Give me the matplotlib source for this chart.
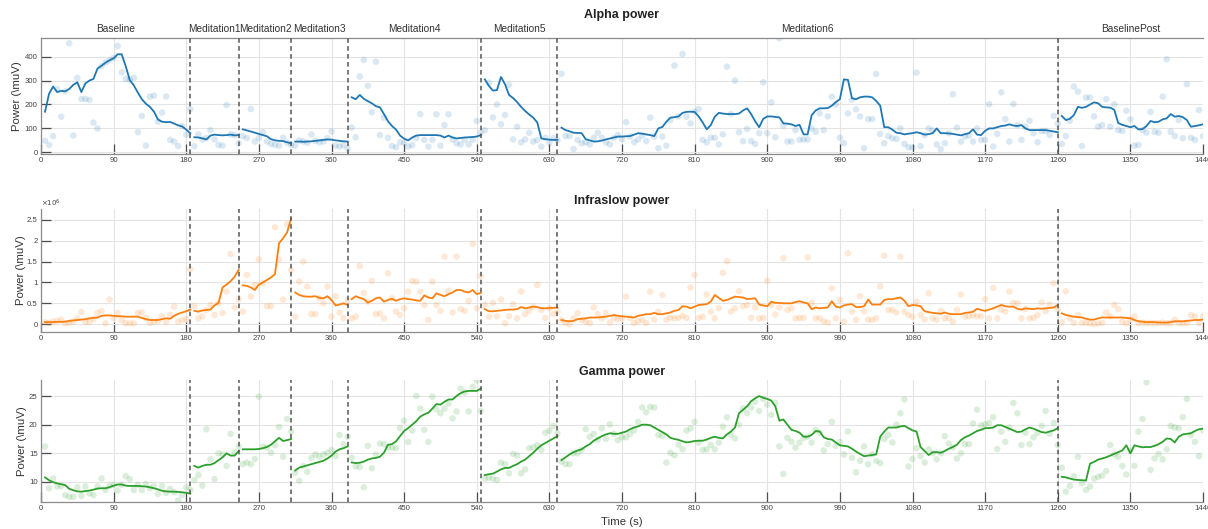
import numpy as np
import matplotlib
matplotlib.use("Agg")
import matplotlib.pyplot as plt
from matplotlib.transforms import blended_transform_factory

plt.rcParams['font.family'] = ['Liberation Sans', 'DejaVu Sans']

# Session layout (seconds); one sample every 5 s inside each segment
segment_names = ['Baseline', 'Meditation1', 'Meditation2', 'Meditation3',
                 'Meditation4', 'Meditation5', 'Meditation6', 'BaselinePost']
segment_bounds = [0, 185, 245, 310, 380, 545, 640, 1260, 1440]
sample_step = 5
x_ticks = list(range(0, 1441, 90))

# ---------------- Alpha power (muV) ----------------
alpha_trend = [
    [170, 245, 275, 252, 257, 255, 265, 282, 293, 252,
     288, 300, 307, 350, 362, 375, 385, 393, 410, 410,
     360, 302, 280, 250, 222, 203, 190, 170, 137, 128,
     126, 127, 120, 113, 108, 95, 80],
    [63, 62, 58, 54, 70, 74, 72, 71, 72, 74, 71, 72],
    [96, 92, 87, 82, 77, 72, 67, 55, 50, 48, 47, 42, 38],
    [45, 45, 44, 45, 46, 48, 50, 52, 54, 53, 50, 48, 46, 45],
    [230, 222, 240, 224, 214, 205, 193, 188, 160, 130,
     110, 95, 70, 57, 50, 62, 70, 72, 72, 72,
     72, 72, 70, 62, 70, 62, 58, 60, 62, 63,
     64, 66, 72],
    [305, 278, 258, 260, 315, 285, 240, 227, 210, 190,
     173, 158, 145, 125, 58, 55, 53, 52, 52],
    [103, 93, 88, 82, 81, 80, 55, 50, 45, 46,
     49, 54, 58, 62, 66, 66, 67, 68, 74, 80,
     78, 75, 72, 68, 100, 106, 128, 145, 147, 150,
     165, 169, 170, 169, 150, 125, 96, 114, 149, 165,
     162, 160, 160, 160, 162, 175, 184, 160, 130, 105,
     140, 150, 150, 148, 146, 121, 120, 117, 110, 115,
     75, 75, 155, 175, 184, 184, 185, 195, 210, 222,
     305, 303, 226, 222, 230, 233, 233, 230, 215, 195,
     105, 105, 95, 82, 80, 75, 78, 80, 84, 80,
     74, 76, 80, 100, 80, 80, 79, 77, 74, 71,
     76, 80, 96, 74, 72, 90, 100, 100, 105, 110,
     112, 117, 112, 110, 114, 100, 93, 93, 93, 93,
     93, 90, 87, 84],
    [152, 135, 140, 156, 190, 186, 190, 200, 209, 205,
     190, 188, 187, 178, 122, 115, 110, 105, 110, 96,
     97, 110, 131, 126, 128, 138, 142, 160, 149, 152,
     147, 135, 107, 110, 113, 117],
]
alpha_samples = [
    [49, 31, 68, 265, 149, 255, 456, 70, 311, 223,
     223, 219, 124, 100, 360, 375, 385, 395, 445, 335,
     307, 305, 311, 84, 152, 28, 233, 237, 128, 166,
     233, 52, 45, 26, 110, 74, 181],
    [26, 75, 54, 60, 93, 54, 31, 28, 198, 75, 72, 38],
    [68, 60, 181, 45, 60, 84, 45, 35, 31, 28, 61, 40, 30],
    [28, 50, 45, 40, 75, 48, 42, 45, 60, 87, 28, 24, 30, 15],
    [103, 63, 317, 386, 278, 167, 379, 72, 145, 61,
     26, 21, 42, 40, 24, 30, 60, 160, 52, 24,
     52, 159, 28, 114, 159, 54, 38, 33, 52, 33,
     52, 131, 82],
    [93, 291, 146, 200, 117, 156, 282, 54, 107, 42,
     54, 82, 45, 52, 24, 61, 40, 60, 50],
    [328, 68, 68, 14, 52, 38, 42, 33, 61, 82,
     61, 42, 33, 60, 72, 55, 126, 66, 42, 54,
     70, 47, 145, 66, 17, 66, 28, 135, 363, 150,
     411, 149, 121, 170, 181, 52, 42, 61, 61, 33,
     75, 358, 160, 300, 84, 47, 98, 47, 35, 80,
     293, 80, 209, 63, 477, 112, 45, 45, 93, 52,
     54, 54, 100, 86, 163, 93, 150, 233, 200, 61,
     38, 163, 220, 180, 150, 17, 139, 139, 328, 77,
     38, 68, 59, 56, 100, 35, 21, 20, 333, 26,
     72, 100, 91, 33, 13, 38, 80, 243, 103, 45,
     66, 70, 45, 100, 52, 52, 201, 24, 77, 251,
     139, 45, 202, 114, 52, 107, 132, 80, 42, 89,
     89, 72, 152, 120],
    [35, 68, 132, 275, 254, 26, 229, 229, 150, 107,
     114, 222, 107, 201, 93, 89, 174, 138, 28, 31,
     93, 82, 169, 86, 82, 233, 389, 86, 68, 135,
     59, 285, 61, 52, 177, 68],
]

# ---------------- Infraslow power (x 1e6 muV) ----------------
infraslow_trend_e6 = [
    [0.05, 0.05, 0.05, 0.055, 0.056, 0.06, 0.08, 0.09, 0.10, 0.11,
     0.12, 0.14, 0.15, 0.16, 0.20, 0.21, 0.21, 0.20, 0.19, 0.19,
     0.18, 0.18, 0.18, 0.18, 0.15, 0.12, 0.10, 0.10, 0.10, 0.12,
     0.14, 0.13, 0.20, 0.25, 0.28, 0.31, 0.35],
    [0.32, 0.30, 0.33, 0.34, 0.35, 0.45, 0.51, 0.88, 0.95, 1.03, 1.14, 1.30],
    [0.93, 0.92, 0.88, 0.82, 0.95, 1.00, 1.06, 1.12, 1.20, 1.94, 2.06, 2.20, 2.54],
    [0.76, 0.70, 0.67, 0.66, 0.66, 0.67, 0.63, 0.62, 0.67, 0.58, 0.45, 0.47, 0.50, 0.46],
    [0.60, 0.67, 0.63, 0.60, 0.52, 0.56, 0.62, 0.64, 0.54, 0.58,
     0.61, 0.56, 0.60, 0.62, 0.60, 0.59, 0.57, 0.56, 0.69, 0.64,
     0.62, 0.74, 0.70, 0.67, 0.72, 0.76, 0.82, 0.82, 0.78, 0.76,
     0.82, 0.72, 0.75],
    [0.36, 0.31, 0.31, 0.32, 0.33, 0.34, 0.35, 0.35, 0.36, 0.41,
     0.38, 0.40, 0.42, 0.41, 0.38, 0.38, 0.39, 0.39, 0.40],
    [0.10, 0.08, 0.07, 0.08, 0.12, 0.13, 0.14, 0.16, 0.16, 0.16,
     0.17, 0.18, 0.20, 0.22, 0.20, 0.19, 0.18, 0.17, 0.16, 0.20,
     0.22, 0.24, 0.24, 0.27, 0.24, 0.24, 0.26, 0.28, 0.32, 0.34,
     0.43, 0.42, 0.38, 0.42, 0.46, 0.47, 0.48, 0.54, 0.70, 0.63,
     0.56, 0.58, 0.62, 0.66, 0.65, 0.64, 0.60, 0.61, 0.62, 0.47,
     0.45, 0.43, 0.54, 0.51, 0.51, 0.50, 0.50, 0.50, 0.53, 0.55,
     0.52, 0.50, 0.36, 0.40, 0.38, 0.39, 0.40, 0.55, 0.42, 0.40,
     0.45, 0.47, 0.48, 0.41, 0.41, 0.43, 0.59, 0.47, 0.47, 0.47,
     0.58, 0.60, 0.60, 0.62, 0.64, 0.56, 0.43, 0.46, 0.45, 0.43,
     0.31, 0.29, 0.27, 0.26, 0.25, 0.28, 0.25, 0.24, 0.24, 0.24,
     0.27, 0.28, 0.30, 0.37, 0.34, 0.32, 0.35, 0.38, 0.42, 0.46,
     0.43, 0.42, 0.42, 0.37, 0.35, 0.38, 0.37, 0.36, 0.38, 0.37,
     0.38, 0.39, 0.40, 0.46],
    [0.26, 0.22, 0.20, 0.18, 0.17, 0.16, 0.13, 0.11, 0.11, 0.14,
     0.16, 0.16, 0.16, 0.16, 0.16, 0.16, 0.15, 0.14, 0.10, 0.07,
     0.06, 0.05, 0.05, 0.05, 0.04, 0.04, 0.04, 0.05, 0.07, 0.07,
     0.07, 0.08, 0.09, 0.10, 0.10, 0.11],
]
infraslow_samples_e6 = [
    [0.05, 0.03, 0.06, 0.08, 0.11, 0.02, 0.03, 0.06, 0.14, 0.29,
     0.06, 0.06, 0.13, 0.27, 0.32, 0.02, 0.59, 0.14, 0.27, 0.10,
     0.02, 0.02, 0.02, 0.27, 0.28, 0.15, 0.03, 0.06, 0.08, 0.19,
     0.06, 0.22, 0.42, 0.06, 0.10, 0.12, 1.32],
    [0.43, 0.14, 0.19, 0.34, 0.46, 0.22, 0.50, 0.27, 0.78, 1.68, 0.40, 0.60],
    [0.30, 1.18, 0.66, 0.94, 1.55, 0.98, 0.43, 0.43, 2.32, 1.55, 0.59, 2.40, 1.30],
    [0.18, 1.02, 1.50, 0.90, 0.24, 0.24, 0.62, 0.50, 0.90, 0.18, 0.67, 0.28, 0.15, 0.58],
    [0.14, 0.18, 1.39, 0.75, 0.54, 1.04, 0.24, 0.26, 0.14, 1.22,
     0.62, 0.30, 0.22, 0.38, 0.78, 1.04, 1.02, 0.78, 0.46, 0.10,
     1.02, 0.46, 0.32, 1.62, 0.80, 0.28, 1.62, 0.36, 0.32, 0.56,
     1.92, 0.38, 1.15],
    [0.46, 0.18, 0.51, 0.19, 0.59, 0.02, 0.19, 0.48, 0.14, 0.78,
     0.24, 0.32, 0.42, 0.94, 0.34, 0.15, 0.38, 0.24, 0.30],
    [0.10, 0.03, 0.00, 0.14, 0.26, 0.10, 0.06, 0.03, 0.40, 0.24,
     0.14, 0.27, 0.04, 0.15, 0.11, 0.14, 0.66, 0.15, 0.03, 0.07,
     0.10, 0.03, 0.78, 0.11, 0.30, 0.70, 0.11, 0.15, 0.14, 0.15,
     0.20, 0.15, 0.88, 1.18, 0.15, 0.18, 0.71, 0.30, 0.14, 0.38,
     1.23, 1.51, 0.30, 0.38, 0.79, 0.43, 0.46, 0.15, 0.40, 0.14,
     0.15, 1.04, 0.46, 0.23, 0.40, 1.58, 0.34, 0.38, 0.14, 0.15,
     0.15, 1.60, 0.51, 0.14, 0.14, 0.07, 0.04, 0.86, 0.14, 0.58,
     0.06, 1.70, 0.30, 0.10, 0.67, 0.31, 0.11, 0.10, 0.14, 0.91,
     1.64, 0.34, 0.34, 0.28, 1.62, 0.30, 0.22, 0.18, 0.54, 0.22,
     0.11, 0.74, 0.14, 0.11, 0.32, 0.14, 0.15, 0.06, 0.34, 0.71,
     0.18, 0.19, 0.22, 0.19, 0.19, 0.60, 0.14, 0.87, 0.14, 0.35,
     0.30, 0.78, 0.51, 0.50, 0.14, 0.36, 0.14, 0.15, 0.22, 0.52,
     0.31, 0.47, 0.98, 0.35],
    [0.04, 0.79, 0.14, 0.03, 0.22, 0.03, 0.03, 0.02, 0.00, 0.02,
     0.03, 0.28, 0.19, 0.46, 0.36, 0.06, 0.02, 0.11, 0.18, 0.03,
     0.04, 0.03, 0.03, 0.02, 0.03, 0.04, 0.02, 0.03, 0.11, 0.03,
     0.02, 0.03, 0.22, 0.18, 0.03, 0.19],
]

# ---------------- Gamma power (muV) ----------------
gamma_trend = [
    [10.8, 10.3, 9.95, 9.75, 9.6, 9.45, 8.8, 8.55, 8.35, 8.3,
     8.4, 8.5, 8.65, 8.85, 8.9, 8.9, 9.1, 9.35, 9.55, 9.55,
     9.35, 9.3, 9.3, 9.3, 9.25, 9.2, 9.05, 8.9, 8.7, 8.45,
     8.35, 8.3, 8.3, 8.25, 8.2, 8.1, 7.95],
    [12.8, 12.5, 12.8, 13.0, 13.0, 13.3, 13.8, 14.3, 15.0, 14.6, 14.6, 15.4],
    [15.7, 15.7, 15.7, 15.7, 15.75, 15.9, 16.1, 16.5, 17.1, 17.7, 17.15, 17.3, 17.5],
    [12.0, 12.5, 12.7, 12.9, 13.1, 13.3, 13.5, 13.7, 14.1, 14.6, 15.3, 15.7, 15.9, 16.2],
    [13.4, 13.3, 13.35, 13.55, 13.9, 14.1, 14.2, 14.4, 15.1, 16.5,
     16.6, 17.1, 18.0, 18.9, 19.4, 20.0, 20.6, 21.4, 21.8, 22.1,
     22.8, 23.6, 23.5, 24.0, 24.4, 24.4, 25.0, 25.5, 25.8, 25.9,
     25.9, 25.9, 26.3],
    [11.2, 11.35, 11.45, 11.8, 12.2, 12.45, 12.45, 12.8, 13.1, 13.55,
     13.9, 14.5, 15.1, 15.8, 16.4, 16.8, 17.2, 17.6, 18.0],
    [13.8, 14.3, 14.8, 15.2, 15.5, 15.7, 16.2, 16.6, 17.2, 17.6,
     18.0, 18.3, 18.5, 18.4, 18.4, 18.6, 18.8, 19.2, 19.5, 19.7,
     20.0, 20.0, 19.9, 19.5, 19.1, 18.7, 18.3, 17.7, 17.5, 17.35,
     17.1, 16.9, 17.0, 17.15, 17.2, 17.2, 17.4, 17.7, 17.9, 17.7,
     17.6, 18.3, 18.8, 19.5, 22.0, 22.6, 23.2, 24.1, 24.6, 25.0,
     24.7, 24.5, 24.2, 23.2, 20.7, 20.9, 20.0, 19.1, 18.9, 18.6,
     17.9, 17.9, 18.2, 18.9, 18.8, 17.8, 17.5, 17.4, 16.9, 16.4,
     16.3, 16.2, 15.8, 15.3, 14.9, 14.5, 14.6, 14.7, 14.8, 17.9,
     18.8, 19.5, 19.5, 19.5, 19.7, 19.8, 19.4, 19.0, 18.8, 16.1,
     15.4, 14.7, 15.2, 15.2, 15.1, 15.4, 15.8, 16.1, 16.5, 17.3,
     17.8, 18.1, 18.5, 18.9, 19.1, 19.4, 19.4, 19.5, 19.9, 19.9,
     19.6, 19.3, 19.0, 18.7, 18.8, 19.2, 19.5, 19.3, 19.0, 18.7,
     18.6, 18.8, 19.0, 19.4],
    [10.9, 10.8, 10.6, 10.4, 10.35, 10.3, 10.25, 13.2, 13.5, 13.9,
     14.1, 14.3, 14.6, 14.9, 15.2, 15.5, 16.4, 15.0, 16.4, 16.2,
     16.05, 16.1, 16.1, 16.3, 16.6, 17.0, 17.6, 17.5, 16.9, 17.9,
     18.3, 18.4, 18.5, 18.9, 19.2, 19.3],
]
gamma_samples = [
    [16.2, 8.9, 10.6, 9.2, 9.3, 7.7, 7.4, 7.4, 9.07, 7.56,
     9.2, 8.0, 7.7, 9.2, 10.6, 8.6, 9.3, 9.5, 8.5, 9.5,
     11.0, 10.5, 8.6, 9.5, 8.6, 9.65, 8.9, 9.3, 7.9, 9.3,
     8.1, 8.8, 8.2, 6.75, 7.7, 9.07, 8.6],
    [10.35, 11.2, 9.36, 19.2, 13.95, 10.5, 15.0, 14.8, 12.8, 18.4, 15.2, 16.2],
    [13.1, 13.4, 13.1, 14.0, 24.9, 16.2, 16.0, 15.1, 16.4, 19.6, 14.4, 21.0, 18.8],
    [11.6, 10.2, 12.8, 11.8, 14.2, 14.8, 14.4, 14.8, 15.1, 15.6, 14.5, 18.2, 16.6, 17.9],
    [14.2, 12.7, 12.6, 9.07, 16.3, 12.4, 14.8, 16.7, 16.6, 16.0,
     16.0, 15.9, 19.4, 20.7, 17.0, 18.95, 25.0, 22.8, 19.1, 17.0,
     24.9, 22.7, 22.0, 22.8, 23.7, 21.1, 22.3, 26.3, 25.6, 22.3,
     26.6, 27.7, 22.4],
    [10.6, 10.75, 10.6, 10.35, 13.4, 13.1, 11.5, 14.9, 14.6, 11.5,
     12.2, 15.9, 16.05, 16.45, 15.6, 18.6, 18.95, 19.8, 18.5],
    [13.55, 13.1, 13.1, 15.0, 15.0, 15.6, 19.25, 17.9, 18.4, 17.4,
     19.36, 17.5, 20.06, 18.4, 17.3, 17.8, 17.8, 18.4, 19.0, 20.5,
     23.0, 22.15, 23.1, 23.0, 18.2, 18.0, 13.37, 15.1, 14.65, 16.5,
     15.7, 18.95, 19.36, 20.5, 16.86, 15.6, 15.7, 16.45, 15.7, 16.86,
     19.65, 21.3, 18.3, 17.6, 20.0, 22.85, 22.0, 23.0, 24.0, 22.4,
     24.5, 23.5, 21.7, 23.8, 16.2, 11.4, 17.7, 17.0, 16.0, 16.86,
     17.7, 17.9, 16.86, 19.07, 18.6, 15.5, 16.6, 20.5, 16.3, 17.0,
     14.8, 18.8, 14.2, 11.7, 13.7, 16.2, 13.1, 14.8, 13.67, 13.3,
     17.5, 18.2, 16.9, 20.0, 22.0, 24.4, 12.7, 14.0, 15.9, 14.5,
     13.4, 15.7, 15.0, 13.95, 15.0, 18.0, 16.7, 16.0, 14.1, 15.0,
     16.6, 16.6, 20.2, 22.6, 19.9, 20.1, 20.3, 21.3, 15.75, 18.8,
     17.0, 19.5, 23.8, 22.0, 16.45, 18.6, 16.6, 17.8, 18.6, 19.8,
     22.4, 18.4, 20.3, 16.45],
    [12.5, 8.3, 9.3, 11.0, 14.4, 9.77, 8.6, 9.2, 10.6, 10.9,
     11.1, 11.9, 16.45, 14.8, 14.4, 12.8, 11.3, 15.5, 12.8, 18.8,
     21.0, 27.4, 12.1, 14.1, 14.9, 13.95, 15.7, 19.8, 19.5, 19.36,
     21.3, 24.5, 18.2, 17.0, 14.5, 19.0],
]

panels = [
    dict(title='Alpha power', trend=alpha_trend, samples=alpha_samples,
         color='#1f77b4', ylim=(-7, 478), yticks=[0, 100, 200, 300, 400]),
    dict(title='Infraslow power', trend=infraslow_trend_e6, samples=infraslow_samples_e6,
         color='#ff7f0e', ylim=(-0.18, 2.76), yticks=[0, 0.5, 1, 1.5, 2, 2.5]),
    dict(title='Gamma power', trend=gamma_trend, samples=gamma_samples,
         color='#2ca02c', ylim=(6.55, 27.8), yticks=[10, 15, 20, 25]),
]

W, H = 1208, 529
def fy(py):
    return 1 - py / H

# axes boxes in pixels: (top, bottom)
boxes = [(38, 154), (209, 331.7), (380, 501.7)]
title_y = [15, 201, 371.7]
ylabel_x = [17, 20.5, 22]

fig = plt.figure(figsize=(W / 100, H / 100), dpi=100)
left_px, right_px = 41, 1203

axes = []
for i, (p, (top, bot)) in enumerate(zip(panels, boxes)):
    ax = fig.add_axes([left_px / W, fy(bot), (right_px - left_px) / W, (bot - top) / H])
    axes.append(ax)
    c = p['color']
    for k, (trend, samp) in enumerate(zip(p['trend'], p['samples'])):
        start = segment_bounds[k]
        t_tr = start + sample_step * (np.arange(len(trend)) + 1)
        t_sm = start + sample_step * (np.arange(len(samp)) + 1)
        ax.scatter(t_sm, samp, s=22, color=c, alpha=0.17, edgecolors='none', zorder=2)
        ax.plot(t_tr, trend, color=c, lw=1.3, zorder=3)
    for b in segment_bounds[1:-1]:
        ax.axvline(b, color='#555555', lw=1.1, ls=(0, (3, 2.2)), zorder=4)

    ax.set_xlim(0, 1440)
    ax.set_ylim(*p['ylim'])
    ax.set_xticks(x_ticks)
    ax.set_yticks(p['yticks'])
    ax.set_yticklabels(['%g' % v for v in p['yticks']])
    ax.grid(True, color='#e4e4e4', lw=0.8)
    ax.set_axisbelow(True)
    ax.tick_params(direction='in', length=7.5, width=0.9, color='#4d4d4d',
                   labelsize=5.6, labelcolor='#444444', pad=2.5)
    for side in ['top', 'right']:
        ax.spines[side].set_visible(False)
    for side in ['left', 'bottom']:
        ax.spines[side].set_color('#8a8a8a')
        ax.spines[side].set_linewidth(0.9)

    fig.text(622 / W, fy(title_y[i]), p['title'], ha='center', va='center',
             fontsize=9, fontweight='bold', color='#222222')
    fig.text(ylabel_x[i] / W, fy((top + bot) / 2), 'Power (\\muV)', rotation=90,
             ha='center', va='center', fontsize=8.2, color='#333333')

# top panel keeps a frame line along its upper edge
axes[0].spines['top'].set_visible(True)
axes[0].spines['top'].set_color('#8a8a8a')
axes[0].spines['top'].set_linewidth(0.9)

# segment names above the top panel
trans = blended_transform_factory(axes[0].transData, fig.transFigure)
for name, a, b in zip(segment_names, segment_bounds[:-1], segment_bounds[1:]):
    axes[0].text((a + b) / 2, fy(29), name, transform=trans, ha='center',
                 va='center', fontsize=7.3, color='#333333')

# scale factor for the infraslow panel
fig.text(left_px / W, fy(203.5), r'$\times10^{6}$', ha='left', va='center',
         fontsize=5, color='#444444')

fig.text(622 / W, fy(521.7), 'Time (s)', ha='center', va='center',
         fontsize=8.2, color='#333333')

fig.savefig('out.png', dpi=100)
